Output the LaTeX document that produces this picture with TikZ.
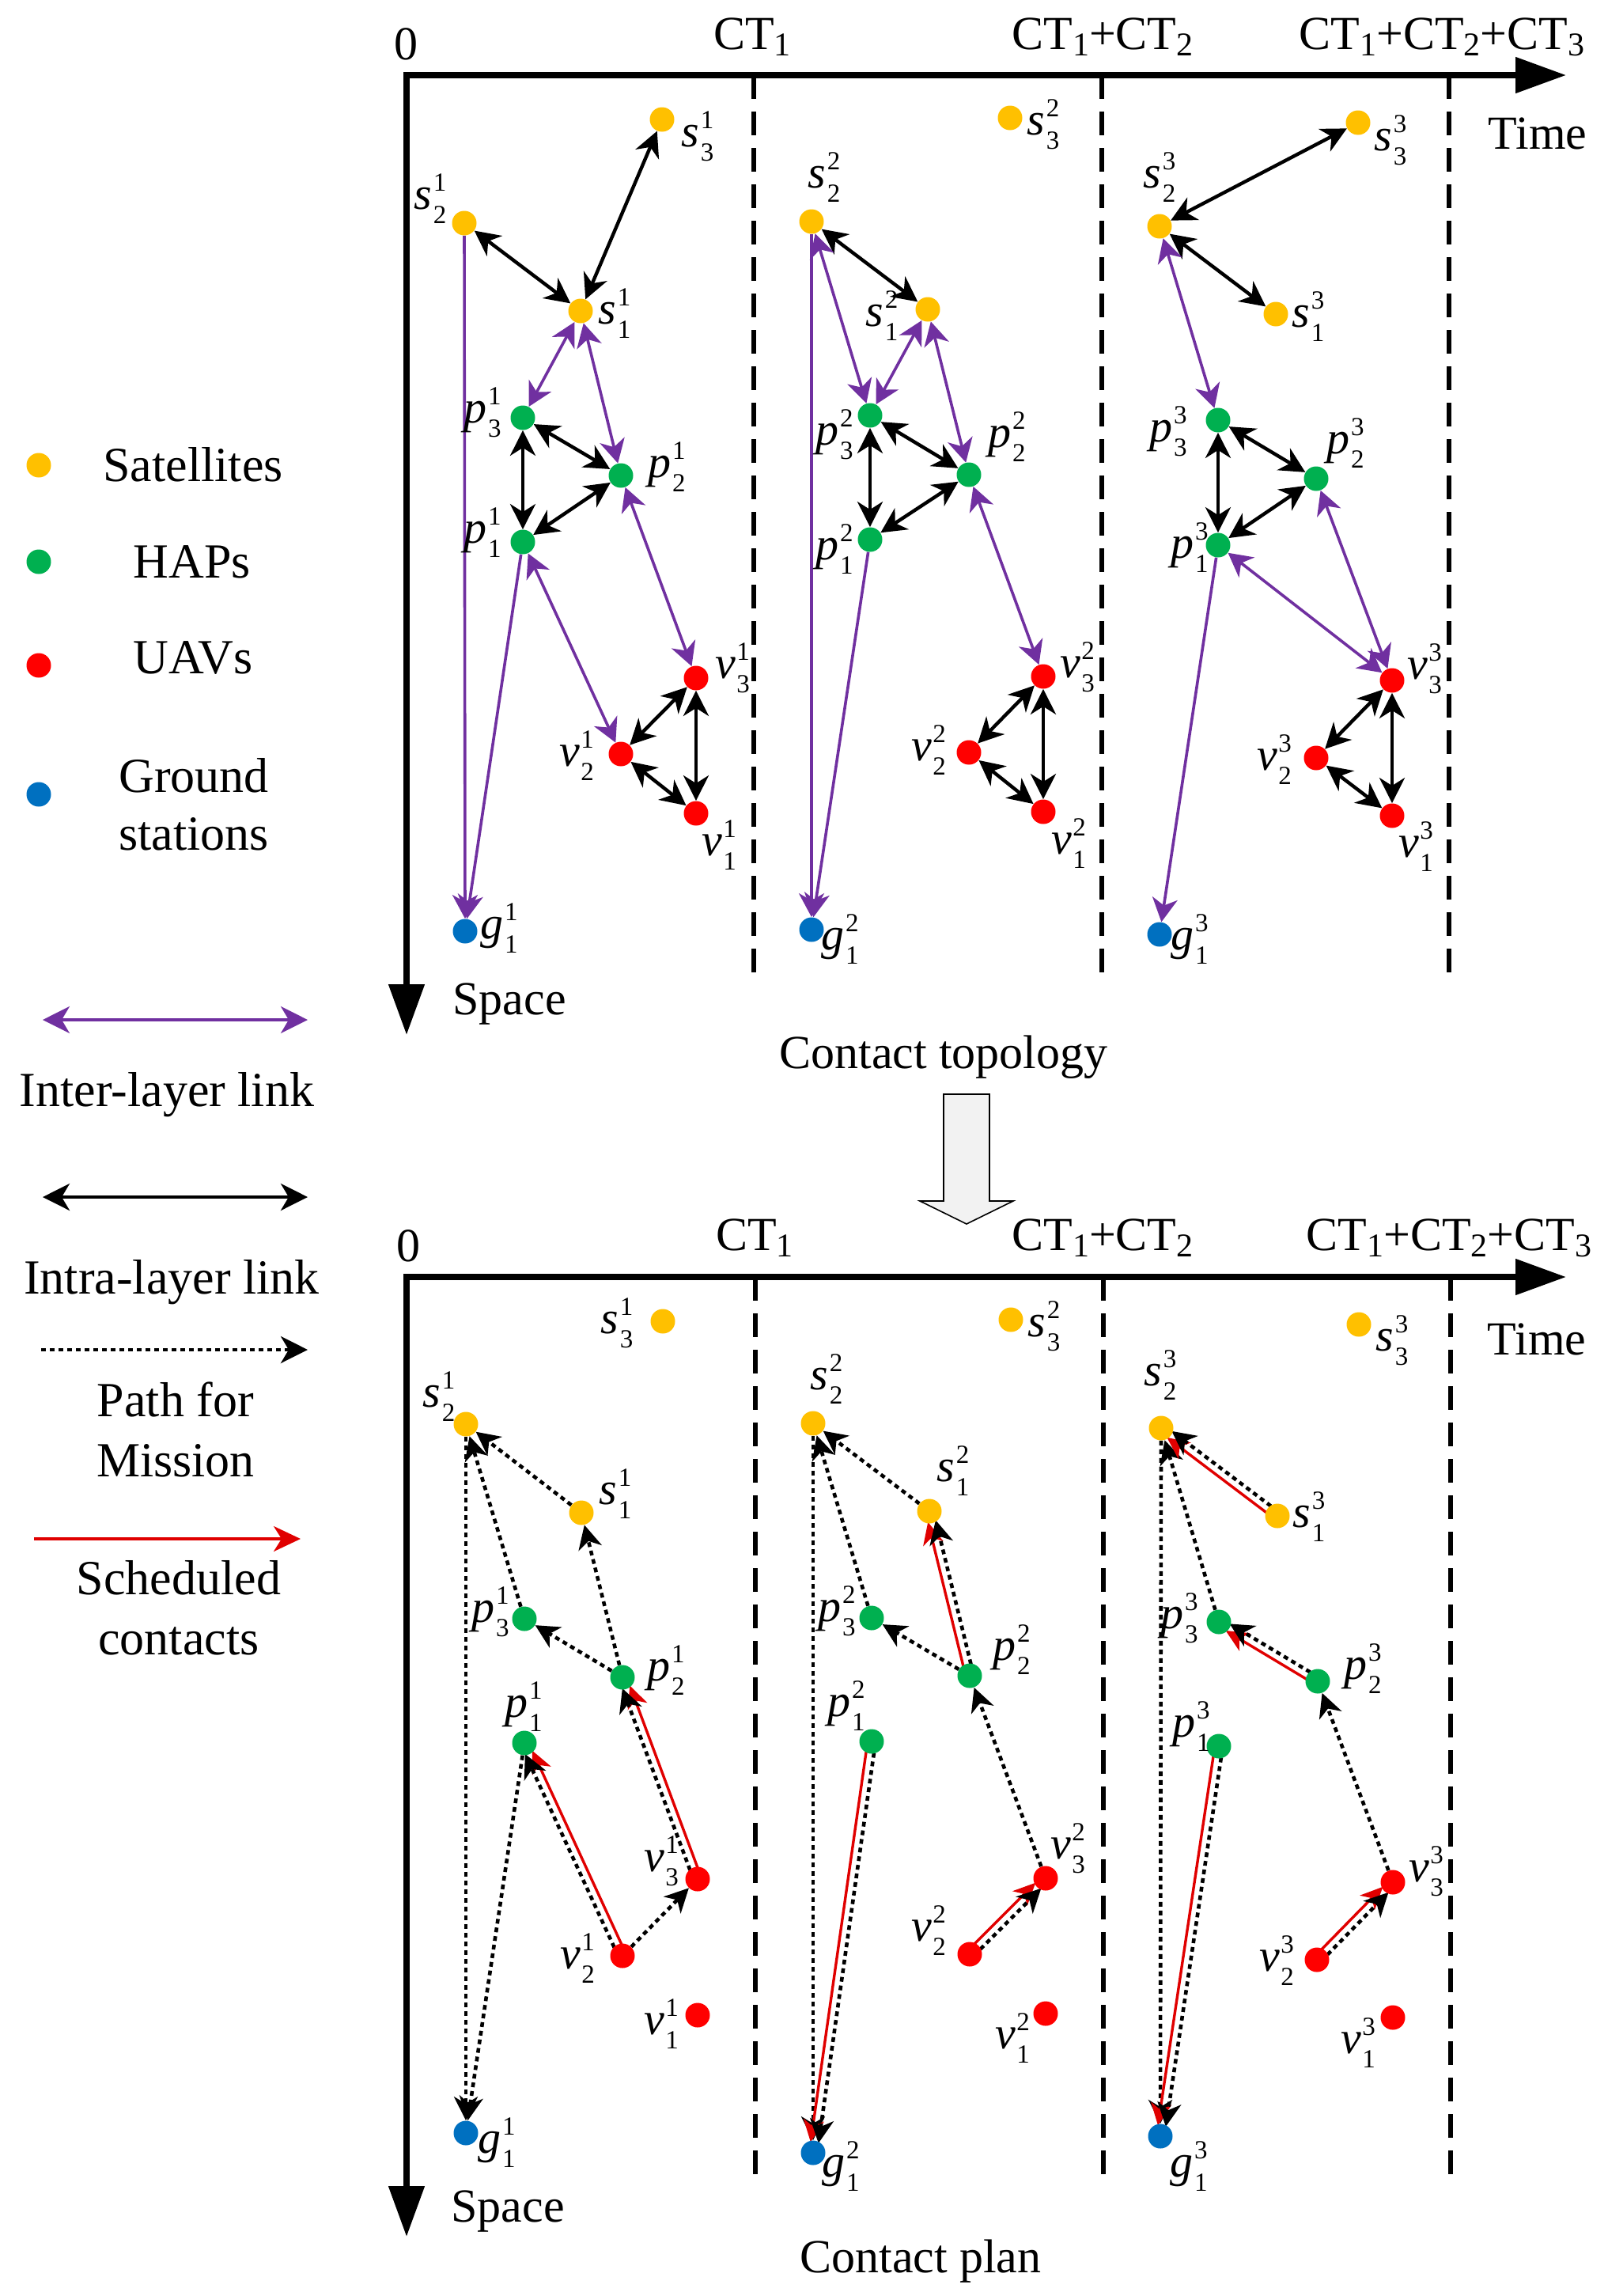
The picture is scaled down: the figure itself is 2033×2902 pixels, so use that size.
\documentclass[tikz,border=0pt]{standalone}
\usepackage{fontspec}
\setmainfont{Liberation Serif}
\usetikzlibrary{arrows.meta,calc}
\definecolor{satc}{HTML}{FFC000}
\definecolor{hapc}{HTML}{00B050}
\definecolor{uavc}{HTML}{FF0000}
\definecolor{gsc}{HTML}{0070C0}
\definecolor{purc}{HTML}{7030A0}
\definecolor{redc}{HTML}{E00000}
\pgfdeclarelayer{bg}
\pgfsetlayers{bg,main}
\newcommand\nl[3]{\textit{#1}\kern0.8pt\rlap{\raisebox{11.5pt}{\fontsize{16.5}{17}\selectfont #2}}\raisebox{-9pt}{\fontsize{16.5}{17}\selectfont #3}}
\newcommand\ctl[1]{CT\raisebox{-4pt}{\fontsize{21}{21}\selectfont #1}}
% paired red (scheduled) + dotted (path) connector: from, to, red side angle, other angle
\newcommand\prl[4]{%
  \draw[redl, shorten >=6.5pt] ($(#1)!2.5pt!#3:(#2)$) -- ($(#2)!2.5pt!#4:(#1)$);
  \draw[dotl, shorten <=7pt, shorten >=6.5pt] ($(#1)!2.5pt!#4:(#2)$) -- ($(#2)!2.5pt!#3:(#1)$);}
\tikzset{
  dotn/.style={circle, inner sep=0pt, minimum size=15.5pt},
  sat/.style={dotn, fill=satc},
  hap/.style={dotn, fill=hapc},
  uav/.style={dotn, fill=uavc},
  gs/.style={dotn, fill=gsc},
  lab/.style={inner sep=0pt, font=\fontsize{29}{31}\selectfont},
  txt/.style={inner sep=0pt, anchor=base, font=\fontsize{30}{36}\selectfont},
  ltxt/.style={inner sep=0pt, anchor=base, font=\fontsize{31}{37}\selectfont},
  axisl/.style={line width=4pt, line join=miter, {Triangle[length=32pt,width=22pt]}-{Triangle[length=32pt,width=22pt]}},
  divl/.style={line width=3pt, dash pattern=on 15pt off 8pt},
  blk/.style={line width=2.2pt, {Stealth[length=16pt,width=16pt,inset=5pt]}-{Stealth[length=16pt,width=16pt,inset=5pt]}},
  pur/.style={color=purc, line width=1.8pt, {Stealth[length=15pt,width=16pt,inset=4.5pt]}-{Stealth[length=15pt,width=16pt,inset=4.5pt]}},
  pura/.style={color=purc, line width=1.8pt, -{Stealth[length=15pt,width=16pt,inset=4.5pt]}},
  dotl/.style={line width=2.3pt, dash pattern=on 3pt off 2.5pt, -{Stealth[length=15pt,width=15pt,inset=4.5pt]}},
  redl/.style={color=redc, line width=1.7pt, -{Stealth[length=14pt,width=13pt,inset=4pt]}},
}
\begin{document}
\begin{tikzpicture}[x=0.5pt,y=-0.5pt]
\useasboundingbox (0,0) rectangle (2033,2902);

% ================= axes and dividers =================
\draw[axisl] (514,1308) -- (514,95) -- (1980,95);
\draw[axisl] (514,2827) -- (514,1614) -- (1980,1614);
\draw[divl] (953,95) -- (953,1240);
\draw[divl] (1393,95) -- (1393,1240);
\draw[divl] (1832,95) -- (1832,1240);
\draw[divl] (955,1614) -- (955,2757);
\draw[divl] (1395,1614) -- (1395,2757);
\draw[divl] (1834,1614) -- (1834,2757);

% ================= texts =================
\node[txt] (t0a) at (513,75) {0};
\node[txt] (tct1a) at (951,62) {\ctl{1}};
\node[txt] (tct2a) at (1394,62) {\ctl{1}+\ctl{2}};
\node[txt] (tct3a) at (1823,62) {\ctl{1}+\ctl{2}+\ctl{3}};
\node[txt] (ttimea) at (1944,188) {Time};
\node[txt] (tspacea) at (644,1282) {Space};
\node[txt] (ttopo) at (1193,1350) {Contact topology};
\node[txt] (t0b) at (516,1594) {0};
\node[txt] (tct1b) at (954,1580) {\ctl{1}};
\node[txt] (tct2b) at (1394,1580) {\ctl{1}+\ctl{2}};
\node[txt] (tct3b) at (1832,1580) {\ctl{1}+\ctl{2}+\ctl{3}};
\node[txt] (ttimeb) at (1943,1712) {Time};
\node[txt] (tspaceb) at (642,2808) {Space};
\node[txt] (tplan) at (1164,2872) {Contact plan};

% big hollow arrow
\draw[fill=gray!10, line width=0.8pt] (1193,1383) -- (1251,1383) -- (1251,1518) -- (1281,1518) -- (1222,1547) -- (1163,1518) -- (1193,1518) -- cycle;

% ================= legend =================
\node[sat] (Lsat) at (49,588) {};
\node[hap] (Lhap) at (49,710) {};
\node[uav] (Luav) at (49,841) {};
\node[gs] (Lgs) at (49,1004) {};
\node[ltxt] (lsat) at (244,608) {Satellites};
\node[ltxt] (lhap) at (243,730) {HAPs};
\node[ltxt] (luav) at (244,851) {UAVs};
\node[ltxt] (lgs1) at (245,1001) {Ground};
\node[ltxt] (lgs2) at (245,1074) {stations};
\coordinate (Lpa) at (54,1289); \coordinate (Lpb) at (389,1289);
\coordinate (Lba) at (54,1513); \coordinate (Lbb) at (389,1513);
\coordinate (Lda) at (52,1706); \coordinate (Ldb) at (389,1706);
\coordinate (Lra) at (43,1945); \coordinate (Lrb) at (380,1945);
\draw[pur, {Stealth[length=17pt,width=17pt,inset=5pt]}-{Stealth[length=17pt,width=17pt,inset=5pt]}] (Lpa) -- (Lpb);
\draw[blk, {Stealth[length=17pt,width=17pt,inset=5pt]}-{Stealth[length=17pt,width=17pt,inset=5pt]}] (Lba) -- (Lbb);
\draw[dotl, line width=2pt, -{Stealth[length=17pt,width=17pt,inset=5pt]}] (Lda) -- (Ldb);
\draw[redl, -{Stealth[length=17pt,width=16pt,inset=5pt]}] (Lra) -- (Lrb);
\node[ltxt] (linter) at (211,1398) {Inter-layer link};
\node[ltxt] (lintra) at (217,1635) {Intra-layer link};
\node[ltxt] (lpath1) at (222,1790) {Path for};
\node[ltxt] (lpath2) at (222,1866) {Mission};
\node[ltxt] (lsch1) at (226,2015) {Scheduled};
\node[ltxt] (lsch2) at (226,2091) {contacts};

% ================= top panel nodes =================
\node[sat] (Ts31) at (837,151) {};
\node[sat] (Ts21) at (587,282) {};
\node[sat] (Ts11) at (734,393) {};
\node[hap] (Tp31) at (661,528) {};
\node[hap] (Tp21) at (785,601) {};
\node[hap] (Tp11) at (661,685) {};
\node[uav] (Tv31) at (880,857) {};
\node[uav] (Tv21) at (785,953) {};
\node[uav] (Tv11) at (880,1028) {};
\node[gs]  (Tg11) at (588,1177) {};

\node[sat] (Ts32) at (1277,149) {};
\node[sat] (Ts22) at (1026,280) {};
\node[sat] (Ts12) at (1173,391) {};
\node[hap] (Tp32) at (1100,525) {};
\node[hap] (Tp22) at (1225,600) {};
\node[hap] (Tp12) at (1100,682) {};
\node[uav] (Tv32) at (1319,855) {};
\node[uav] (Tv22) at (1225,951) {};
\node[uav] (Tv12) at (1319,1026) {};
\node[gs]  (Tg12) at (1026,1175) {};

\node[sat] (Ts33) at (1717,155) {};
\node[sat] (Ts23) at (1466,286) {};
\node[sat] (Ts13) at (1613,397) {};
\node[hap] (Tp33) at (1540,531) {};
\node[hap] (Tp23) at (1664,605) {};
\node[hap] (Tp13) at (1540,689) {};
\node[uav] (Tv33) at (1760,860) {};
\node[uav] (Tv23) at (1664,958) {};
\node[uav] (Tv13) at (1760,1031) {};
\node[gs]  (Tg13) at (1466,1181) {};

% top labels
\node[lab] (lTs31) at (882,172) {\nl{s}{1}{3}};
\node[lab] (lTs21) at (544,251) {\nl{s}{1}{2}};
\node[lab] (lTs11) at (777,396) {\nl{s}{1}{1}};
\node[lab] (lTp31) at (610,521) {\nl{p}{1}{3}};
\node[lab] (lTp21) at (843,590) {\nl{p}{1}{2}};
\node[lab] (lTp11) at (610,673) {\nl{p}{1}{1}};
\node[lab] (lTv31) at (926,844) {\nl{v}{1}{3}};
\node[lab] (lTv21) at (729,955) {\nl{v}{1}{2}};
\node[lab] (lTv11) at (909,1068) {\nl{v}{1}{1}};
\node[lab] (lTg11) at (631,1173) {\nl{g}{1}{1}};

\node[lab] (lTs32) at (1319,157) {\nl{s}{2}{3}};
\node[lab] (lTs22) at (1042,224) {\nl{s}{2}{2}};
\node[lab] (lTs12) at (1115,399) {\nl{s}{2}{1}};
\node[lab] (lTp32) at (1055,549) {\nl{p}{2}{3}};
\node[lab] (lTp22) at (1273,552) {\nl{p}{2}{2}};
\node[lab] (lTp12) at (1055,694) {\nl{p}{2}{1}};
\node[lab] (lTv32) at (1362,843) {\nl{v}{2}{3}};
\node[lab] (lTv22) at (1174,948) {\nl{v}{2}{2}};
\node[lab] (lTv12) at (1351,1066) {\nl{v}{2}{1}};
\node[lab] (lTg12) at (1062,1187) {\nl{g}{2}{1}};

\node[lab] (lTs33) at (1758,177) {\nl{s}{3}{3}};
\node[lab] (lTs23) at (1466,224) {\nl{s}{3}{2}};
\node[lab] (lTs13) at (1654,400) {\nl{s}{3}{1}};
\node[lab] (lTp33) at (1477,545) {\nl{p}{3}{3}};
\node[lab] (lTp23) at (1701,560) {\nl{p}{3}{2}};
\node[lab] (lTp13) at (1504,692) {\nl{p}{3}{1}};
\node[lab] (lTv33) at (1801,845) {\nl{v}{3}{3}};
\node[lab] (lTv23) at (1611,960) {\nl{v}{3}{2}};
\node[lab] (lTv13) at (1790,1070) {\nl{v}{3}{1}};
\node[lab] (lTg13) at (1504,1187) {\nl{g}{3}{1}};

% top edges
\begin{pgfonlayer}{bg}
\draw[blk] (Ts31) -- (Ts11);
\draw[blk] (Ts21) -- (Ts11);
\draw[blk] (Tp31) -- (Tp21);
\draw[blk] (Tp31) -- (Tp11);
\draw[blk] (Tp21) -- (Tp11);
\draw[blk] (Tv31) -- (Tv21);
\draw[blk] (Tv31) -- (Tv11);
\draw[blk] (Tv21) -- (Tv11);
\draw[pur] (Ts11) -- (Tp31);
\draw[pur] (Ts11) -- (Tp21);
\draw[pur] (Tp11) -- (Tv21);
\draw[pur] (Tp21) -- (Tv31);
\draw[pura] (Ts21) -- (Tg11);
\draw[pura] (Tp11) -- (Tg11);

\draw[blk] (Ts22) -- (Ts12);
\draw[blk] (Tp32) -- (Tp22);
\draw[blk] (Tp32) -- (Tp12);
\draw[blk] (Tp22) -- (Tp12);
\draw[blk] (Tv32) -- (Tv22);
\draw[blk] (Tv32) -- (Tv12);
\draw[blk] (Tv22) -- (Tv12);
\draw[pur] (Ts22) -- (Tp32);
\draw[pur] (Ts12) -- (Tp32);
\draw[pur] (Ts12) -- (Tp22);
\draw[pur] (Tp22) -- (Tv32);
\draw[pura] (Ts22) -- (Tg12);
\draw[pura] (Tp12) -- (Tg12);

\draw[blk] (Ts23) -- (Ts33);
\draw[blk] (Ts23) -- (Ts13);
\draw[blk] (Tp33) -- (Tp23);
\draw[blk] (Tp33) -- (Tp13);
\draw[blk] (Tp23) -- (Tp13);
\draw[blk] (Tv33) -- (Tv23);
\draw[blk] (Tv33) -- (Tv13);
\draw[blk] (Tv23) -- (Tv13);
\draw[pur] (Ts23) -- (Tp33);
\draw[pur] (Tp13) -- (Tv33);
\draw[pur] (Tp23) -- (Tv33);
\draw[pura] (Tp13) -- (Tg13);
\end{pgfonlayer}

% ================= bottom panel nodes =================
\node[sat] (Bs31) at (838,1670) {};
\node[sat] (Bs21) at (589,1800) {};
\node[sat] (Bs11) at (735,1912) {};
\node[hap] (Bp31) at (663,2046) {};
\node[hap] (Bp21) at (787,2120) {};
\node[hap] (Bp11) at (663,2203) {};
\node[uav] (Bv31) at (882,2375) {};
\node[uav] (Bv21) at (787,2472) {};
\node[uav] (Bv11) at (882,2547) {};
\node[gs]  (Bg11) at (589,2696) {};

\node[sat] (Bs32) at (1278,1668) {};
\node[sat] (Bs22) at (1028,1799) {};
\node[sat] (Bs12) at (1175,1910) {};
\node[hap] (Bp32) at (1102,2045) {};
\node[hap] (Bp22) at (1226,2118) {};
\node[hap] (Bp12) at (1102,2201) {};
\node[uav] (Bv32) at (1322,2374) {};
\node[uav] (Bv22) at (1226,2470) {};
\node[uav] (Bv12) at (1322,2545) {};
\node[gs]  (Bg12) at (1028,2721) {};

\node[sat] (Bs33) at (1718,1674) {};
\node[sat] (Bs23) at (1468,1805) {};
\node[sat] (Bs13) at (1615,1916) {};
\node[hap] (Bp33) at (1541,2050) {};
\node[hap] (Bp23) at (1666,2125) {};
\node[hap] (Bp13) at (1541,2207) {};
\node[uav] (Bv33) at (1761,2379) {};
\node[uav] (Bv23) at (1665,2477) {};
\node[uav] (Bv13) at (1761,2550) {};
\node[gs]  (Bg13) at (1467,2700) {};

% bottom labels
\node[lab] (lBs31) at (780,1672) {\nl{s}{1}{3}};
\node[lab] (lBs21) at (555,1765) {\nl{s}{1}{2}};
\node[lab] (lBs11) at (778,1888) {\nl{s}{1}{1}};
\node[lab] (lBp31) at (620,2037) {\nl{p}{1}{3}};
\node[lab] (lBp21) at (842,2111) {\nl{p}{1}{2}};
\node[lab] (lBp11) at (662,2157) {\nl{p}{1}{1}};
\node[lab] (lBv31) at (836,2352) {\nl{v}{1}{3}};
\node[lab] (lBv21) at (730,2475) {\nl{v}{1}{2}};
\node[lab] (lBv11) at (836,2558) {\nl{v}{1}{1}};
\node[lab] (lBg11) at (628,2708) {\nl{g}{1}{1}};

\node[lab] (lBs32) at (1320,1676) {\nl{s}{2}{3}};
\node[lab] (lBs22) at (1045,1743) {\nl{s}{2}{2}};
\node[lab] (lBs12) at (1205,1859) {\nl{s}{2}{1}};
\node[lab] (lBp32) at (1058,2036) {\nl{p}{2}{3}};
\node[lab] (lBp22) at (1279,2085) {\nl{p}{2}{2}};
\node[lab] (lBp12) at (1070,2156) {\nl{p}{2}{1}};
\node[lab] (lBv32) at (1350,2336) {\nl{v}{2}{3}};
\node[lab] (lBv22) at (1174,2440) {\nl{v}{2}{2}};
\node[lab] (lBv12) at (1280,2576) {\nl{v}{2}{1}};
\node[lab] (lBg12) at (1063,2738) {\nl{g}{2}{1}};

\node[lab] (lBs33) at (1760,1694) {\nl{s}{3}{3}};
\node[lab] (lBs23) at (1467,1738) {\nl{s}{3}{2}};
\node[lab] (lBs13) at (1655,1917) {\nl{s}{3}{1}};
\node[lab] (lBp33) at (1491,2045) {\nl{p}{3}{3}};
\node[lab] (lBp23) at (1723,2109) {\nl{p}{3}{2}};
\node[lab] (lBp13) at (1506,2182) {\nl{p}{3}{1}};
\node[lab] (lBv33) at (1803,2365) {\nl{v}{3}{3}};
\node[lab] (lBv23) at (1614,2478) {\nl{v}{3}{2}};
\node[lab] (lBv13) at (1717,2582) {\nl{v}{3}{1}};
\node[lab] (lBg13) at (1503,2738) {\nl{g}{3}{1}};

% bottom edges
\begin{pgfonlayer}{bg}
% period 1
\draw[dotl] (Bs11) -- (Bs21);
\draw[dotl] (Bp31) -- (Bs21);
\draw[dotl] (Bs21) -- (Bg11);
\draw[dotl] (Bp21) -- (Bs11);
\draw[dotl] (Bp21) -- (Bp31);
\draw[dotl] (Bv21) -- (Bv31);
\draw[dotl] (Bp11) -- (Bg11);
\prl{Bv31}{Bp21}{-90}{90}
\prl{Bv21}{Bp11}{-90}{90}
% period 2
\draw[dotl] (Bs12) -- (Bs22);
\draw[dotl] (Bp32) -- (Bs22);
\draw[dotl] (Bs22) -- (Bg12);
\draw[dotl] (Bp22) -- (Bp32);
\draw[dotl] (Bv32) -- (Bp22);
\prl{Bp22}{Bs12}{90}{-90}
\prl{Bv22}{Bv32}{90}{-90}
\prl{Bp12}{Bg12}{-90}{90}
% period 3
\draw[dotl] (Bp33) -- (Bs23);
\draw[dotl] (Bs23) -- (Bg13);
\draw[dotl] (Bv33) -- (Bp23);
\prl{Bs13}{Bs23}{90}{-90}
\prl{Bp23}{Bp33}{90}{-90}
\prl{Bv23}{Bv33}{90}{-90}
\prl{Bp13}{Bg13}{-90}{90}
\end{pgfonlayer}
\end{tikzpicture}
\end{document}
